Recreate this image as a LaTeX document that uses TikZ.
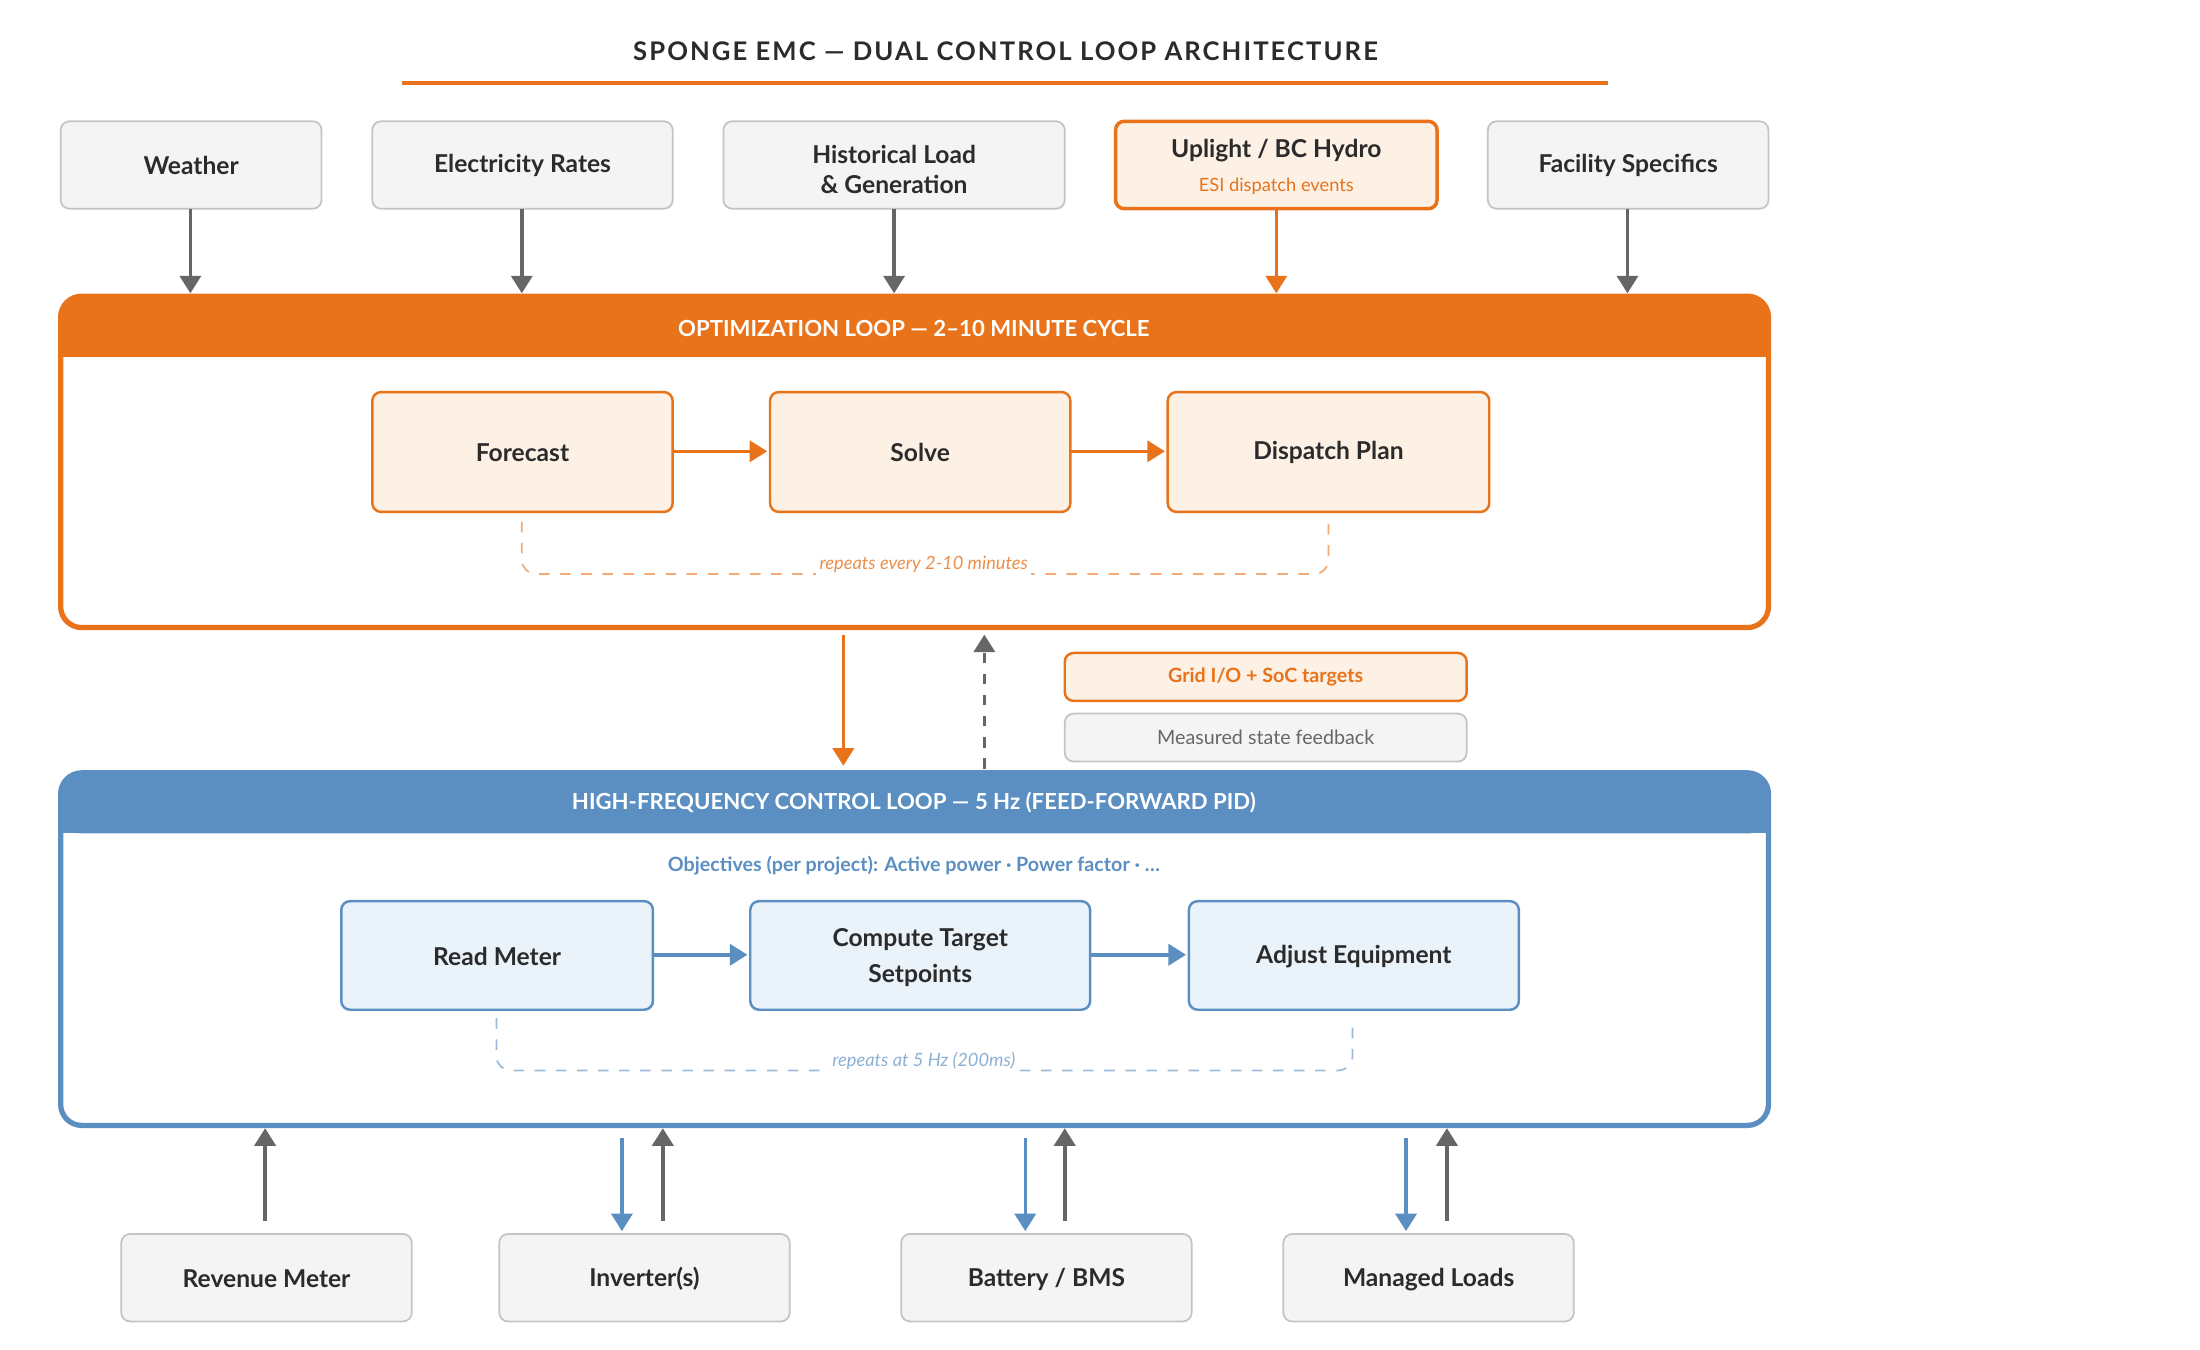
\documentclass[tikz,border=0pt]{standalone}
\usepackage{fontspec}
\setmainfont{Lato}
\usetikzlibrary{arrows.meta}
\definecolor{org}{HTML}{E8731A}
\definecolor{orgl}{HTML}{FDF1E6}
\definecolor{blu}{HTML}{5B8FC2}
\definecolor{blul}{HTML}{EAF2FA}
\definecolor{gbox}{HTML}{F4F4F4}
\definecolor{gbd}{HTML}{C4C4C4}
\definecolor{garr}{HTML}{666666}
\definecolor{txt}{HTML}{2B2B2B}
\begin{document}
\begin{tikzpicture}[x=0.0141cm,y=-0.0141cm,
 lab/.style={font=\fontsize{7}{8.5}\selectfont\bfseries,text=txt,align=center},
 hd/.style={font=\fontsize{6.3}{7}\selectfont\bfseries,text=white},
 box/.style={draw=gbd,fill=gbox,rounded corners=2.5pt,line width=0.5pt},
 obox/.style={draw=org,fill=orgl,rounded corners=2.5pt,line width=0.7pt},
 bbox/.style={draw=blu,fill=blul,rounded corners=2.5pt,line width=0.7pt},
 ga/.style={draw=garr,line width=1pt,-{Triangle[length=5pt,width=6pt]}},
 oa/.style={draw=org,line width=1pt,-{Triangle[length=5pt,width=6pt]}},
 ba/.style={draw=blu,line width=1pt,-{Triangle[length=5pt,width=6pt]}},
 lp/.style={dashed,line width=0.5pt,rounded corners=4pt},
 sm/.style={font=\fontsize{5.2}{6}\selectfont}]
\useasboundingbox (0,0) rectangle (1560,957);
\node[font=\fontsize{7.3}{8}\selectfont\bfseries,text=txt] (title) at (713,36) {\addfontfeature{LetterSpace=8}SPONGE EMC — DUAL CONTROL LOOP ARCHITECTURE};
\draw[org,line width=1.2pt] (285,59) -- (1140,59);
% top inputs
\draw[box] (43,86) rectangle (228,148); \node[lab] (w) at (135.5,117) {Weather};
\draw[box] (264,86) rectangle (477,148); \node[lab] (er) at (370.5,117) {Electricity Rates};
\draw[box] (513,86) rectangle (755,148); \node[lab] (hl) at (634,120) {Historical Load\\\& Generation};
\draw[obox,line width=1pt] (791,86) rectangle (1019,148); \node[lab] (up) at (905,107) {Uplight / BC Hydro};
\node[sm,text=org] (esi) at (905,132) {ESI dispatch events};
\draw[box] (1055,86) rectangle (1254,148); \node[lab] (fs) at (1154.5,117) {Facility Specifics};
\coordinate (wa) at (135,148); \coordinate (wb) at (135,208);
\coordinate (era) at (370,148); \coordinate (erb) at (370,208);
\coordinate (hla) at (634,148); \coordinate (hlb) at (634,208);
\coordinate (upa) at (905,148); \coordinate (upb) at (905,208);
\coordinate (fsa) at (1154,148); \coordinate (fsb) at (1154,208);
\draw[ga] (wa)--(wb); \draw[ga] (era)--(erb); \draw[ga] (hla)--(hlb); \draw[oa] (upa)--(upb); \draw[ga] (fsa)--(fsb);
% optimization loop
\draw[org,line width=1.5pt,rounded corners=6pt] (43,210) rectangle (1254,445);
\fill[org,rounded corners=6pt] (43,210) rectangle (1254,253);
\fill[org] (43,235) rectangle (1254,253);
\node[hd] (oh) at (648,233) {OPTIMIZATION LOOP — 2–10 MINUTE CYCLE};
\draw[obox] (264,278) rectangle (477,363); \node[lab] (fct) at (370.5,321) {Forecast};
\draw[obox] (546,278) rectangle (759,363); \node[lab] (sv) at (652.5,321) {Solve};
\draw[obox] (828,278) rectangle (1056,363); \node[lab] (dp) at (942,321) {Dispatch Plan};
\coordinate (o1) at (477,320); \coordinate (o2) at (544,320);
\coordinate (o3) at (759,320); \coordinate (o4) at (826,320);
\draw[oa] (o1)--(o2); \draw[oa] (o3)--(o4);
\draw[lp,org!60] (370,370) -- (370,407) -- (942,407) -- (942,370);
\node[sm,font=\fontsize{5.2}{6}\selectfont\itshape,text=org!80,fill=white,inner sep=1pt] (r1) at (655,400) {repeats every 2-10 minutes};
% between
\coordinate (da) at (598,450); \coordinate (db) at (598,543);
\draw[oa] (da)--(db);
\coordinate (ua) at (698,545); \coordinate (ub) at (698,450);
\draw[ga,dashed] (ua)--(ub);
\draw[obox] (755,463) rectangle (1040,497);
\node[sm,font=\fontsize{5.6}{6}\selectfont\bfseries,text=org] (leg1) at (897.5,480) {Grid I/O + SoC targets};
\draw[box] (755,506) rectangle (1040,540);
\node[sm,font=\fontsize{5.6}{6}\selectfont,text=garr] (leg2) at (897.5,523) {Measured state feedback};
% HF loop
\draw[blu,line width=1.5pt,rounded corners=6pt] (43,548) rectangle (1254,798);
\fill[blu,rounded corners=6pt] (43,548) rectangle (1254,591);
\fill[blu] (43,573) rectangle (1254,591);
\node[hd] (hh) at (648,569) {HIGH-FREQUENCY CONTROL LOOP — 5 Hz (FEED-FORWARD PID)};
\node[sm,font=\fontsize{5.6}{6}\selectfont\bfseries,text=blu] (obj) at (648,614) {Objectives (per project): Active power · Power factor · …};
\draw[bbox] (242,639) rectangle (463,716); \node[lab] (rm) at (352.5,678) {Read Meter};
\draw[bbox] (532,639) rectangle (773,716); \node[lab,align=center] (ct) at (652.5,679) {Compute Target\\[2pt]Setpoints};
\draw[bbox] (843,639) rectangle (1077,716); \node[lab] (ae) at (960,678) {Adjust Equipment};
\coordinate (b1) at (463,677); \coordinate (b2) at (530,677);
\coordinate (b3) at (773,677); \coordinate (b4) at (841,677);
\draw[ba] (b1)--(b2); \draw[ba] (b3)--(b4);
\draw[lp,blu!60] (352,722) -- (352,759) -- (959,759) -- (959,722);
\node[sm,font=\fontsize{5.2}{6}\selectfont\itshape,text=blu!70,fill=white,inner sep=1pt] (r2) at (655,752) {repeats at 5 Hz (200ms)};
% bottom
\draw[box] (86,875) rectangle (292,937); \node[lab] (rv) at (189,907) {Revenue Meter};
\draw[box] (354,875) rectangle (560,937); \node[lab] (inv) at (457,907) {Inverter(s)};
\draw[box] (639,875) rectangle (845,937); \node[lab] (bat) at (742,907) {Battery / BMS};
\draw[box] (910,875) rectangle (1116,937); \node[lab] (ml) at (1013,907) {Managed Loads};
\foreach \x/\n in {188/a,470/b,755/c,1026/d}{\coordinate (u\n1) at (\x,866); \coordinate (u\n2) at (\x,800); \draw[ga] (u\n1)--(u\n2);}
\foreach \x/\n in {441/b,727/c,997/d}{\coordinate (d\n1) at (\x,807); \coordinate (d\n2) at (\x,873); \draw[ba] (d\n1)--(d\n2);}
\end{tikzpicture}
\end{document}
